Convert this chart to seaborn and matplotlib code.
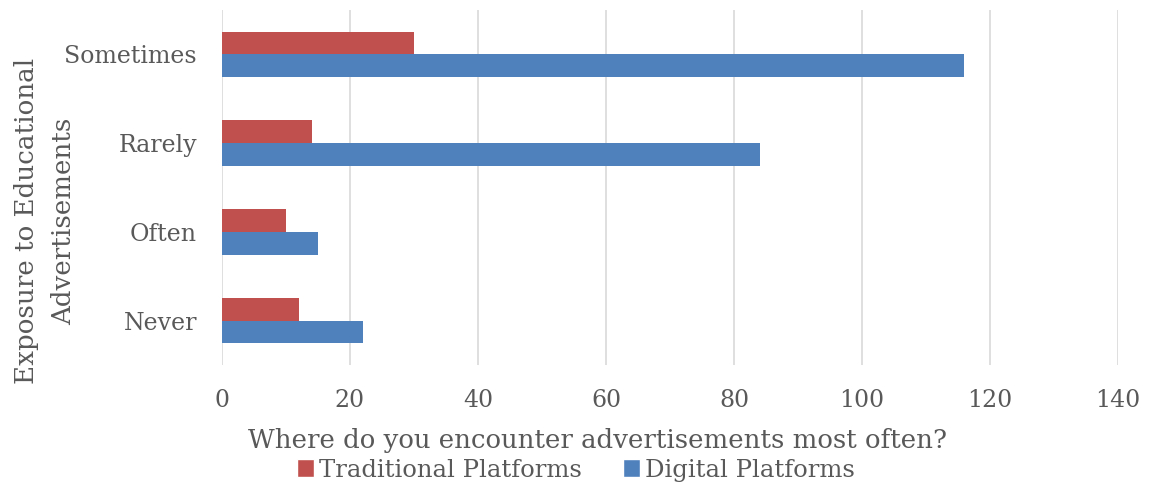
import matplotlib
matplotlib.use("Agg")
import matplotlib.pyplot as plt
import seaborn as sns
import pandas as pd
from matplotlib.patches import Patch

categories = ["Sometimes", "Rarely", "Often", "Never"]
traditional = [30, 14, 10, 12]
digital = [116, 84, 15, 22]
series_names = ["Traditional Platforms", "Digital Platforms"]
x_ticks = [0, 20, 40, 60, 80, 100, 120, 140]

RED = "#C0504D"
BLUE = "#4F81BD"
TXT = "#595959"

df = pd.DataFrame({
    "category": categories * 2,
    "value": traditional + digital,
    "series": [series_names[0]] * 4 + [series_names[1]] * 4,
})

sns.set_theme(style="white")
plt.rcParams["font.family"] = ["DejaVu Serif"]

fig = plt.figure(figsize=(11.51, 4.90), dpi=100)
ax = fig.add_axes([222/1151, 1-365/490, (1118-222)/1151, 355/490])

sns.barplot(data=df, y="category", x="value", hue="series", order=categories,
            hue_order=series_names, palette=[RED, BLUE], orient="h",
            width=0.51, ax=ax, legend=False, saturation=1, edgecolor="none")

ax.set_xlim(0, 140)
ax.set_xticks(x_ticks)
ax.set_xticklabels([str(t) for t in x_ticks])
ax.grid(axis="x", color="#D9D9D9", linewidth=1.2)
ax.set_axisbelow(True)
for s in ax.spines.values():
    s.set_visible(False)
ax.tick_params(axis="both", length=0, labelsize=17, colors=TXT)
ax.tick_params(axis="x", pad=17)
ax.tick_params(axis="y", pad=18)
ax.set_xlabel("")
ax.set_ylabel("Exposure to Educational\nAdvertisements", fontsize=18.8, color=TXT,
              linespacing=1.6)
ax.yaxis.set_label_coords(-0.163, 0.405)

fig.text(597/1151, 1-440/490, "Where do you encounter advertisements most often?",
         ha="center", va="center", fontsize=18.7, color=TXT)

handles = [Patch(facecolor=RED), Patch(facecolor=BLUE)]
leg = fig.legend(handles, series_names, loc="center", bbox_to_anchor=(576/1151, 1-470/490),
                 ncol=2, frameon=False, fontsize=17.5, handlelength=0.7, handleheight=0.7,
                 handletextpad=0.2, columnspacing=1.7, labelcolor=TXT, borderpad=0)

fig.savefig("out.png", dpi=100)
